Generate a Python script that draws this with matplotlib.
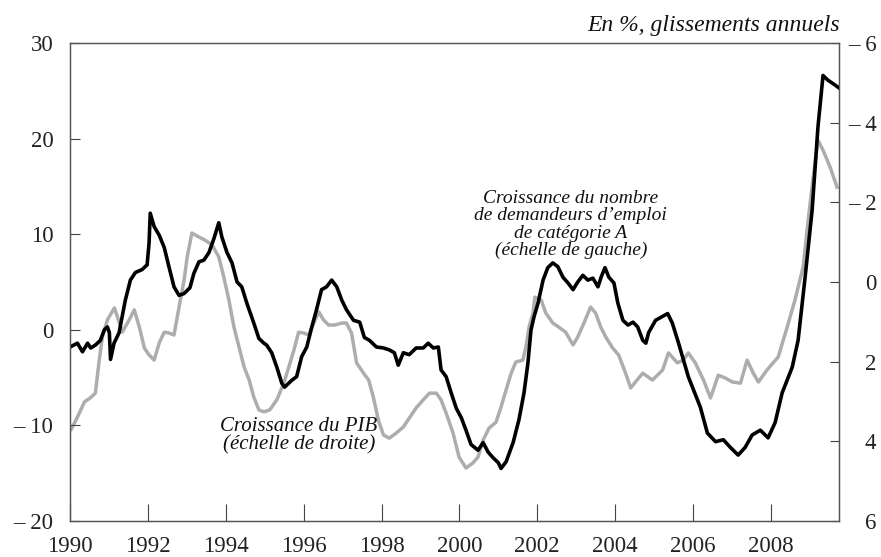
import matplotlib
matplotlib.use('Agg')
import matplotlib.pyplot as plt

plt.rcParams['font.family'] = ['Liberation Serif', 'DejaVu Serif']

# demandeurs d'emploi cat. A, glissement annuel (%), echelle de gauche
emp_dates = [1990.0, 1990.19, 1990.32, 1990.45, 1990.53, 1990.65, 1990.78, 1990.88, 1990.96, 1991.01,
             1991.04, 1991.13, 1991.26, 1991.34, 1991.42, 1991.55, 1991.68, 1991.85, 1991.98, 1992.03,
             1992.06, 1992.16, 1992.29, 1992.42, 1992.54, 1992.67, 1992.80, 1992.93, 1993.08, 1993.18,
             1993.31, 1993.44, 1993.57, 1993.70, 1993.82, 1993.90, 1994.03, 1994.16, 1994.29, 1994.41,
             1994.54, 1994.72, 1994.85, 1994.98, 1995.05, 1995.18, 1995.31, 1995.44, 1995.51, 1995.69,
             1995.82, 1995.95, 1996.08, 1996.21, 1996.33, 1996.46, 1996.59, 1996.72, 1996.85, 1996.98,
             1997.10, 1997.28, 1997.44, 1997.56, 1997.69, 1997.87, 1998.05, 1998.20, 1998.33, 1998.43,
             1998.56, 1998.71, 1998.89, 1999.07, 1999.20, 1999.33, 1999.46, 1999.53, 1999.66, 1999.79,
             1999.92, 2000.05, 2000.17, 2000.30, 2000.48, 2000.61, 2000.74, 2000.87, 2001.00, 2001.07,
             2001.20, 2001.38, 2001.53, 2001.66, 2001.76, 2001.84, 2001.92, 2002.02, 2002.15, 2002.27,
             2002.40, 2002.53, 2002.66, 2002.79, 2002.92, 2003.04, 2003.17, 2003.30, 2003.43, 2003.56,
             2003.64, 2003.74, 2003.84, 2003.97, 2004.07, 2004.20, 2004.33, 2004.46, 2004.58, 2004.71,
             2004.79, 2004.86, 2005.04, 2005.35, 2005.47, 2005.63, 2005.88, 2006.19, 2006.37, 2006.58,
             2006.78, 2006.96, 2007.16, 2007.34, 2007.52, 2007.73, 2007.93, 2008.11, 2008.29, 2008.55,
             2008.70, 2008.88, 2009.06, 2009.21, 2009.34, 2009.47, 2009.65, 2009.75]
emp_values = [-1.8, -1.4, -2.3, -1.4, -1.9, -1.6, -1.1, 0.0, 0.3, -0.3,
              -3.1, -1.4, -0.3, 1.4, 3.1, 5.2, 6.0, 6.3, 6.8, 9.1,
              12.2, 10.8, 9.9, 8.6, 6.6, 4.5, 3.6, 3.8, 4.4, 5.9,
              7.1, 7.3, 8.1, 9.6, 11.2, 9.7, 8.1, 7.0, 5.0, 4.5,
              2.8, 0.7, -0.9, -1.4, -1.6, -2.4, -3.9, -5.6, -6.0, -5.3,
              -4.9, -2.8, -1.8, 0.3, 2.1, 4.2, 4.5, 5.2, 4.5, 3.1,
              2.1, 1.0, 0.8, -0.8, -1.1, -1.8, -1.9, -2.1, -2.4, -3.7,
              -2.4, -2.6, -1.9, -1.9, -1.4, -1.9, -1.8, -4.2, -4.9, -6.6,
              -8.2, -9.2, -10.5, -12.0, -12.6, -11.8, -12.8, -13.4, -13.9, -14.5,
              -13.8, -11.8, -9.4, -6.6, -3.5, 0.0, 1.4, 2.8, 5.2, 6.5,
              7.0, 6.6, 5.5, 4.9, 4.2, 5.0, 5.7, 5.2, 5.4, 4.5,
              5.5, 6.5, 5.5, 4.9, 2.8, 1.0, 0.5, 0.8, 0.3, -1.1,
              -1.4, -0.3, 1.0, 1.7, 0.7, -1.4, -4.9, -8.1, -10.8, -11.7,
              -11.5, -12.3, -13.1, -12.3, -11.0, -10.5, -11.3, -9.7, -6.6, -3.9,
              -1.1, 5.5, 12.5, 21.2, 26.6, 26.1, 25.6, 25.3]

# croissance du PIB, glissement annuel (%), echelle de droite inversee
gdp_dates = [1990.03, 1990.24, 1990.37, 1990.52, 1990.65, 1990.75, 1990.83, 1990.96, 1991.14, 1991.27,
             1991.34, 1991.52, 1991.65, 1991.78, 1991.91, 1992.03, 1992.16, 1992.29, 1992.42, 1992.54,
             1992.67, 1992.80, 1992.93, 1993.01, 1993.13, 1993.31, 1993.47, 1993.65, 1993.82, 1993.95,
             1994.08, 1994.21, 1994.34, 1994.47, 1994.60, 1994.72, 1994.85, 1994.98, 1995.13, 1995.31,
             1995.49, 1995.62, 1995.75, 1995.87, 1996.00, 1996.13, 1996.26, 1996.39, 1996.51, 1996.64,
             1996.80, 1996.98, 1997.10, 1997.23, 1997.36, 1997.54, 1997.67, 1997.79, 1997.92, 1998.05,
             1998.20, 1998.38, 1998.56, 1998.71, 1998.89, 1999.07, 1999.23, 1999.41, 1999.53, 1999.66,
             1999.84, 1999.99, 2000.17, 2000.35, 2000.48, 2000.61, 2000.76, 2000.94, 2001.07, 2001.20,
             2001.33, 2001.45, 2001.63, 2001.71, 2001.79, 2001.89, 2001.94, 2002.10, 2002.22, 2002.40,
             2002.55, 2002.73, 2002.92, 2003.04, 2003.20, 2003.37, 2003.50, 2003.63, 2003.76, 2003.94,
             2004.09, 2004.27, 2004.40, 2004.53, 2004.71, 2004.96, 2005.22, 2005.37, 2005.60, 2005.75,
             2005.88, 2006.06, 2006.27, 2006.45, 2006.65, 2006.83, 2007.01, 2007.22, 2007.39, 2007.55,
             2007.68, 2007.90, 2008.19, 2008.42, 2008.62, 2008.83, 2008.96, 2009.08, 2009.21, 2009.34,
             2009.52, 2009.70]
gdp_values = [3.7, 3.29, 3.01, 2.91, 2.79, 1.96, 1.38, 0.95, 0.65, 1.03,
              1.26, 0.95, 0.70, 1.13, 1.66, 1.83, 1.96, 1.53, 1.26, 1.28,
              1.33, 0.63, -0.05, -0.63, -1.23, -1.13, -1.05, -0.93, -0.63, -0.12,
              0.45, 1.13, 1.63, 2.13, 2.46, 2.89, 3.21, 3.26, 3.21, 2.96,
              2.54, 2.13, 1.71, 1.26, 1.28, 1.33, 1.03, 0.75, 0.95, 1.08,
              1.08, 1.03, 1.03, 1.28, 2.03, 2.29, 2.46, 2.89, 3.47, 3.84,
              3.92, 3.79, 3.64, 3.42, 3.16, 2.96, 2.79, 2.79, 2.96, 3.29,
              3.80, 4.39, 4.67, 4.54, 4.39, 3.97, 3.67, 3.52, 3.14, 2.71,
              2.29, 2.01, 1.96, 1.63, 1.13, 0.78, 0.38, 0.45, 0.78, 1.03,
              1.13, 1.26, 1.58, 1.38, 1.03, 0.63, 0.78, 1.13, 1.38, 1.66,
              1.83, 2.29, 2.66, 2.50, 2.29, 2.46, 2.21, 1.78, 2.03, 1.96,
              1.78, 2.03, 2.46, 2.91, 2.34, 2.41, 2.51, 2.54, 1.96, 2.29,
              2.51, 2.21, 1.88, 1.13, 0.45, -0.38, -1.56, -2.56, -3.56, -3.31,
              -2.89, -2.38]

year_ticks = [1990, 1992, 1994, 1996, 1998, 2000, 2002, 2004, 2006, 2008]
left_ticks = [-20, -10, 0, 10, 20, 30]
left_labels = ['– 20', '– 10', '0', '10', '20', '30']
right_ticks = [-6, -4, -2, 0, 2, 4, 6]
right_labels = ['– 6', '– 4', '– 2', '0', '2', '4', '6']

fig = plt.figure(figsize=(8.81, 5.57), dpi=100)
ax = fig.add_axes([0.0795, 0.0646, 0.8728, 0.8582])
ax2 = ax.twinx()

ax2.plot(gdp_dates, gdp_values, color='#adadad', lw=2.5, solid_joinstyle='round')
ax.plot(emp_dates, emp_values, color='black', lw=2.6, solid_joinstyle='round')

# courbe noire au-dessus de la grise
ax.set_zorder(ax2.get_zorder() + 1)
ax.patch.set_visible(False)

ax.set_xlim(1990, 2009.75)
ax.set_ylim(-20, 30)
ax2.set_ylim(6, -6)

ax.set_xticks(year_ticks, [str(y) for y in year_ticks])
ax.set_yticks(left_ticks, left_labels)
ax2.set_yticks(right_ticks, right_labels)

ax.tick_params(axis='x', direction='in', length=12, width=0.8, pad=11, labelsize=16.5, colors='#444444', labelcolor='#222222')
ax.tick_params(axis='y', direction='in', length=7, width=0.8, pad=12, labelsize=16.5, colors='#444444', labelcolor='#222222')
ax2.tick_params(axis='y', direction='in', length=6.5, width=0.8, pad=27, labelsize=16.5, colors='#444444', labelcolor='#222222')
for lab in ax2.get_yticklabels():
    lab.set_horizontalalignment('right')

for a in (ax, ax2):
    for s in a.spines.values():
        s.set_color('#555555')
        s.set_linewidth(0.9)

ax.text(2002.86, 11.0,
        'Croissance du nombre\nde demandeurs d’emploi\nde catégorie A\n(échelle de gauche)',
        ha='center', va='center', multialignment='center', style='italic',
        fontsize=14, linespacing=1.03, color='#111111')
ax.text(1995.88, -11.1, 'Croissance du PIB\n(échelle de droite)',
        ha='center', va='center', multialignment='center', style='italic',
        fontsize=15, linespacing=0.97, color='#111111')

fig.text(840 / 881, 1 - 26 / 557, 'En %, glissements annuels', ha='right', va='center',
         style='italic', fontsize=17, color='#111111')

fig.savefig('out.png', dpi=100)
